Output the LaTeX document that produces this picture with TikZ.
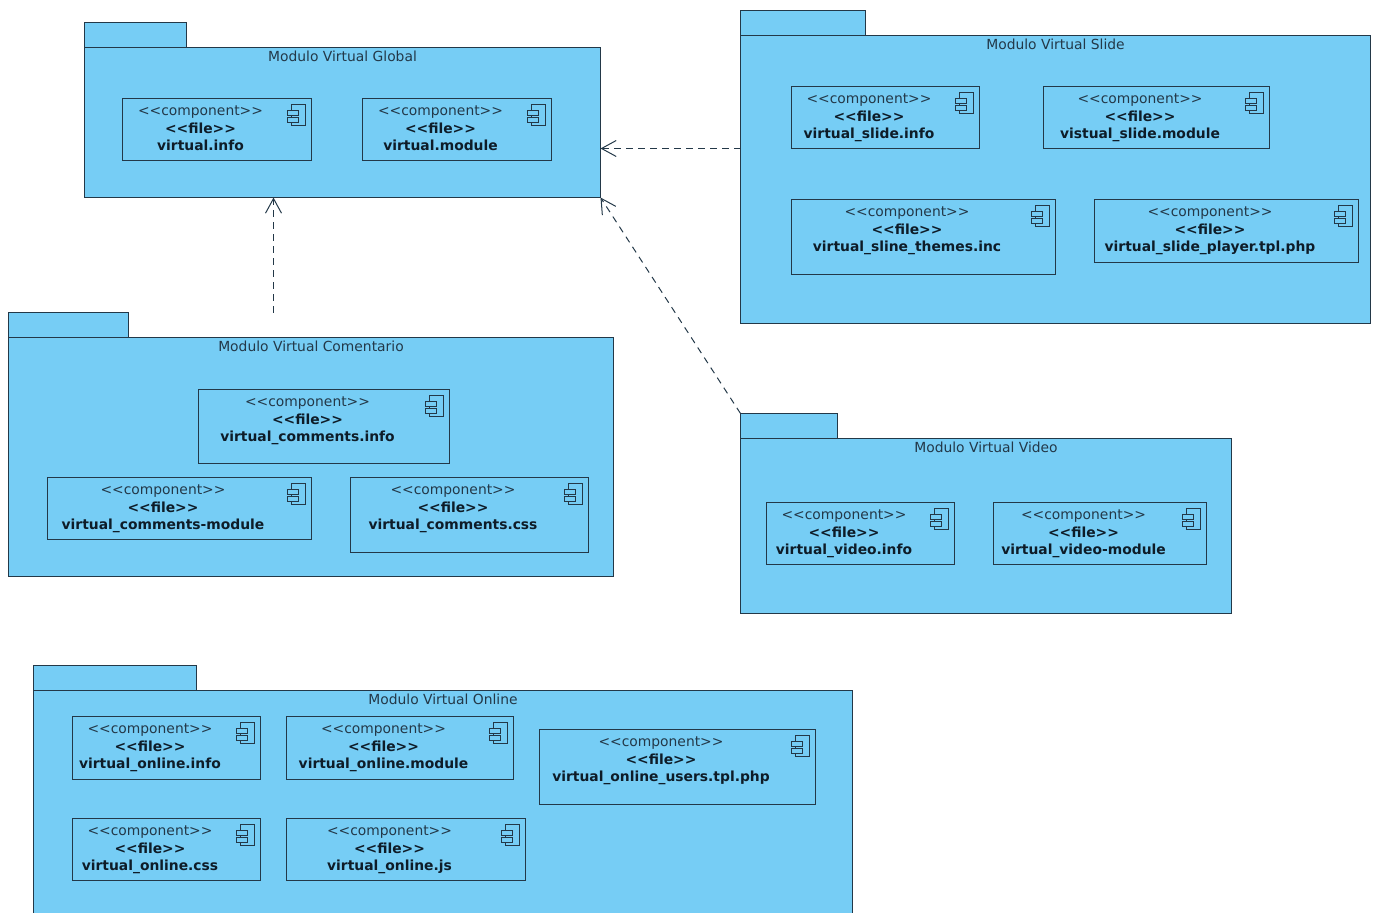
\documentclass[tikz,border=0pt]{standalone}
\usepackage{xcolor}
\usepackage{fontspec}
\setmainfont{DejaVu Sans}
\definecolor{pkgblue}{HTML}{76CDF5}
\definecolor{pkgline}{HTML}{233848}
\definecolor{boldtext}{HTML}{0E1C28}
\usepackage{tikz}
\usetikzlibrary{arrows.meta,calc,positioning}

\newcommand{\compnode}[6]{%
    \node[compbox, minimum width=#4*0.75pt, minimum height=#5*0.75pt] (#1) at (#2,#3) {};
    \node[comptext, below=5.8pt of #1.north, xshift=-12pt] (#1-text) {\stereo\\\textcolor{boldtext}{\textbf{<{}<file>{}>}}\\\textcolor{boldtext}{\textbf{#6}}};
    \pic at (#1.north east) {compicon};
}
\newcommand{\stereo}{<{}<component>{}>}

\begin{document}
\begin{tikzpicture}[
        x=0.75pt, y=-0.75pt,
        pkgbody/.style={rectangle, draw=pkgline, fill=pkgblue, line width=0.72pt, inner sep=0pt, outer sep=0pt, anchor=north west},
        pkgtab/.style={pkgbody, minimum height=18.75pt},
        pkglabel/.style={text=pkgline, font=\fontsize{10.4}{12}\selectfont, inner sep=0pt},
        compbox/.style={pkgbody, fill=none},
        comptext/.style={text=pkgline, align=center, inner sep=0pt, font=\fontsize{10.4}{13.1}\selectfont},
        compicon/.pic={
            \draw[draw=pkgline, line width=0.65pt] (-20,6) rectangle (-6,27);
            \draw[draw=pkgline, fill=pkgblue, line width=0.65pt] (-24,12) rectangle (-13,17);
            \draw[draw=pkgline, fill=pkgblue, line width=0.65pt] (-24,19) rectangle (-13,24);
        },
        arrow/.style={-{Straight Barb[length=11pt, width=12pt]}, draw=pkgline, line width=0.75pt, dash pattern=on 5pt off 4pt}
    ]
        \clip (0,0) rectangle (1377,913);

        % Global
        \node[pkgtab, minimum width=76.5pt] (tabGlobal) at (84.5,22.5) {};
        \node[pkgbody, minimum width=387pt, minimum height=112.5pt] (pkgGlobal) at (84.5,47.5) {};
        \node[pkglabel, below=2.4pt of pkgGlobal.north] (lblGlobal) {Modulo Virtual Global};
        \compnode{infoGlobal}{122}{98}{189}{62}{virtual.info}
        \compnode{moduleGlobal}{362}{98}{189}{62}{virtual.module}

        % Slide
        \node[pkgtab, minimum width=93.75pt] (tabSlide) at (740.5,10.5) {};
        \node[pkgbody, minimum width=472.5pt, minimum height=216pt] (pkgSlide) at (740.5,35.5) {};
        \node[pkglabel, below=2.4pt of pkgSlide.north] (lblSlide) {Modulo Virtual Slide};
        \compnode{infoSlide}{791}{86}{188}{62}{virtual\_slide.info}
        \compnode{moduleSlide}{1043}{86}{226}{62}{vistual\_slide.module}
        \compnode{themesSlide}{791}{199}{264}{75}{virtual\_sline\_themes.inc}
        \compnode{playerSlide}{1094}{199}{264}{63}{virtual\_slide\_player.tpl.php}

        % Comentario
        \node[pkgtab, minimum width=90pt] (tabComentario) at (8.5,312.5) {};
        \node[pkgbody, minimum width=453.75pt, minimum height=179.25pt] (pkgComentario) at (8.5,337.5) {};
        \node[pkglabel, below=2.4pt of pkgComentario.north] (lblComentario) {Modulo Virtual Comentario};
        \compnode{infoComentario}{198}{389}{251}{74}{virtual\_comments.info}
        \compnode{moduleComentario}{47}{477}{264}{62}{virtual\_comments-module}
        \compnode{cssComentario}{350}{477}{238}{75}{virtual\_comments.css}

        % Video
        \node[pkgtab, minimum width=72.75pt] (tabVideo) at (740.5,413.5) {};
        \node[pkgbody, minimum width=368.25pt, minimum height=131.25pt] (pkgVideo) at (740.5,438.5) {};
        \node[pkglabel, below=2.4pt of pkgVideo.north] (lblVideo) {Modulo Virtual Video};
        \compnode{infoVideo}{766}{502}{188}{62}{virtual\_video.info}
        \compnode{moduleVideo}{993}{502}{213}{62}{virtual\_video-module}

        % Online
        \node[pkgtab, minimum width=122.25pt] (tabOnline) at (33.5,665.5) {};
        \node[pkgbody, minimum width=614.25pt, minimum height=180pt] (pkgOnline) at (33.5,690.5) {};
        \node[pkglabel, below=2.4pt of pkgOnline.north] (lblOnline) {Modulo Virtual Online};
        \compnode{infoOnline}{72}{716}{188}{63}{virtual\_online.info}
        \compnode{moduleOnline}{286}{716}{227}{63}{virtual\_online.module}
        \compnode{usersOnline}{539}{729}{276}{75}{virtual\_online\_users.tpl.php}
        \compnode{cssOnline}{72}{818}{188}{62}{virtual\_online.css}
        \compnode{jsOnline}{286}{818}{239}{62}{virtual\_online.js}

        \draw[arrow] ($(pkgSlide.west)+(0,-31)$) -- ($(pkgGlobal.east)+(0,26)$);
        \draw[arrow] (tabVideo.north west) -- (pkgGlobal.south east);
        \draw[arrow] ($(pkgComentario.north west)+(265,-25)$) -- ($(pkgGlobal.south west)+(189,0)$);
    \end{tikzpicture}
\end{document}
